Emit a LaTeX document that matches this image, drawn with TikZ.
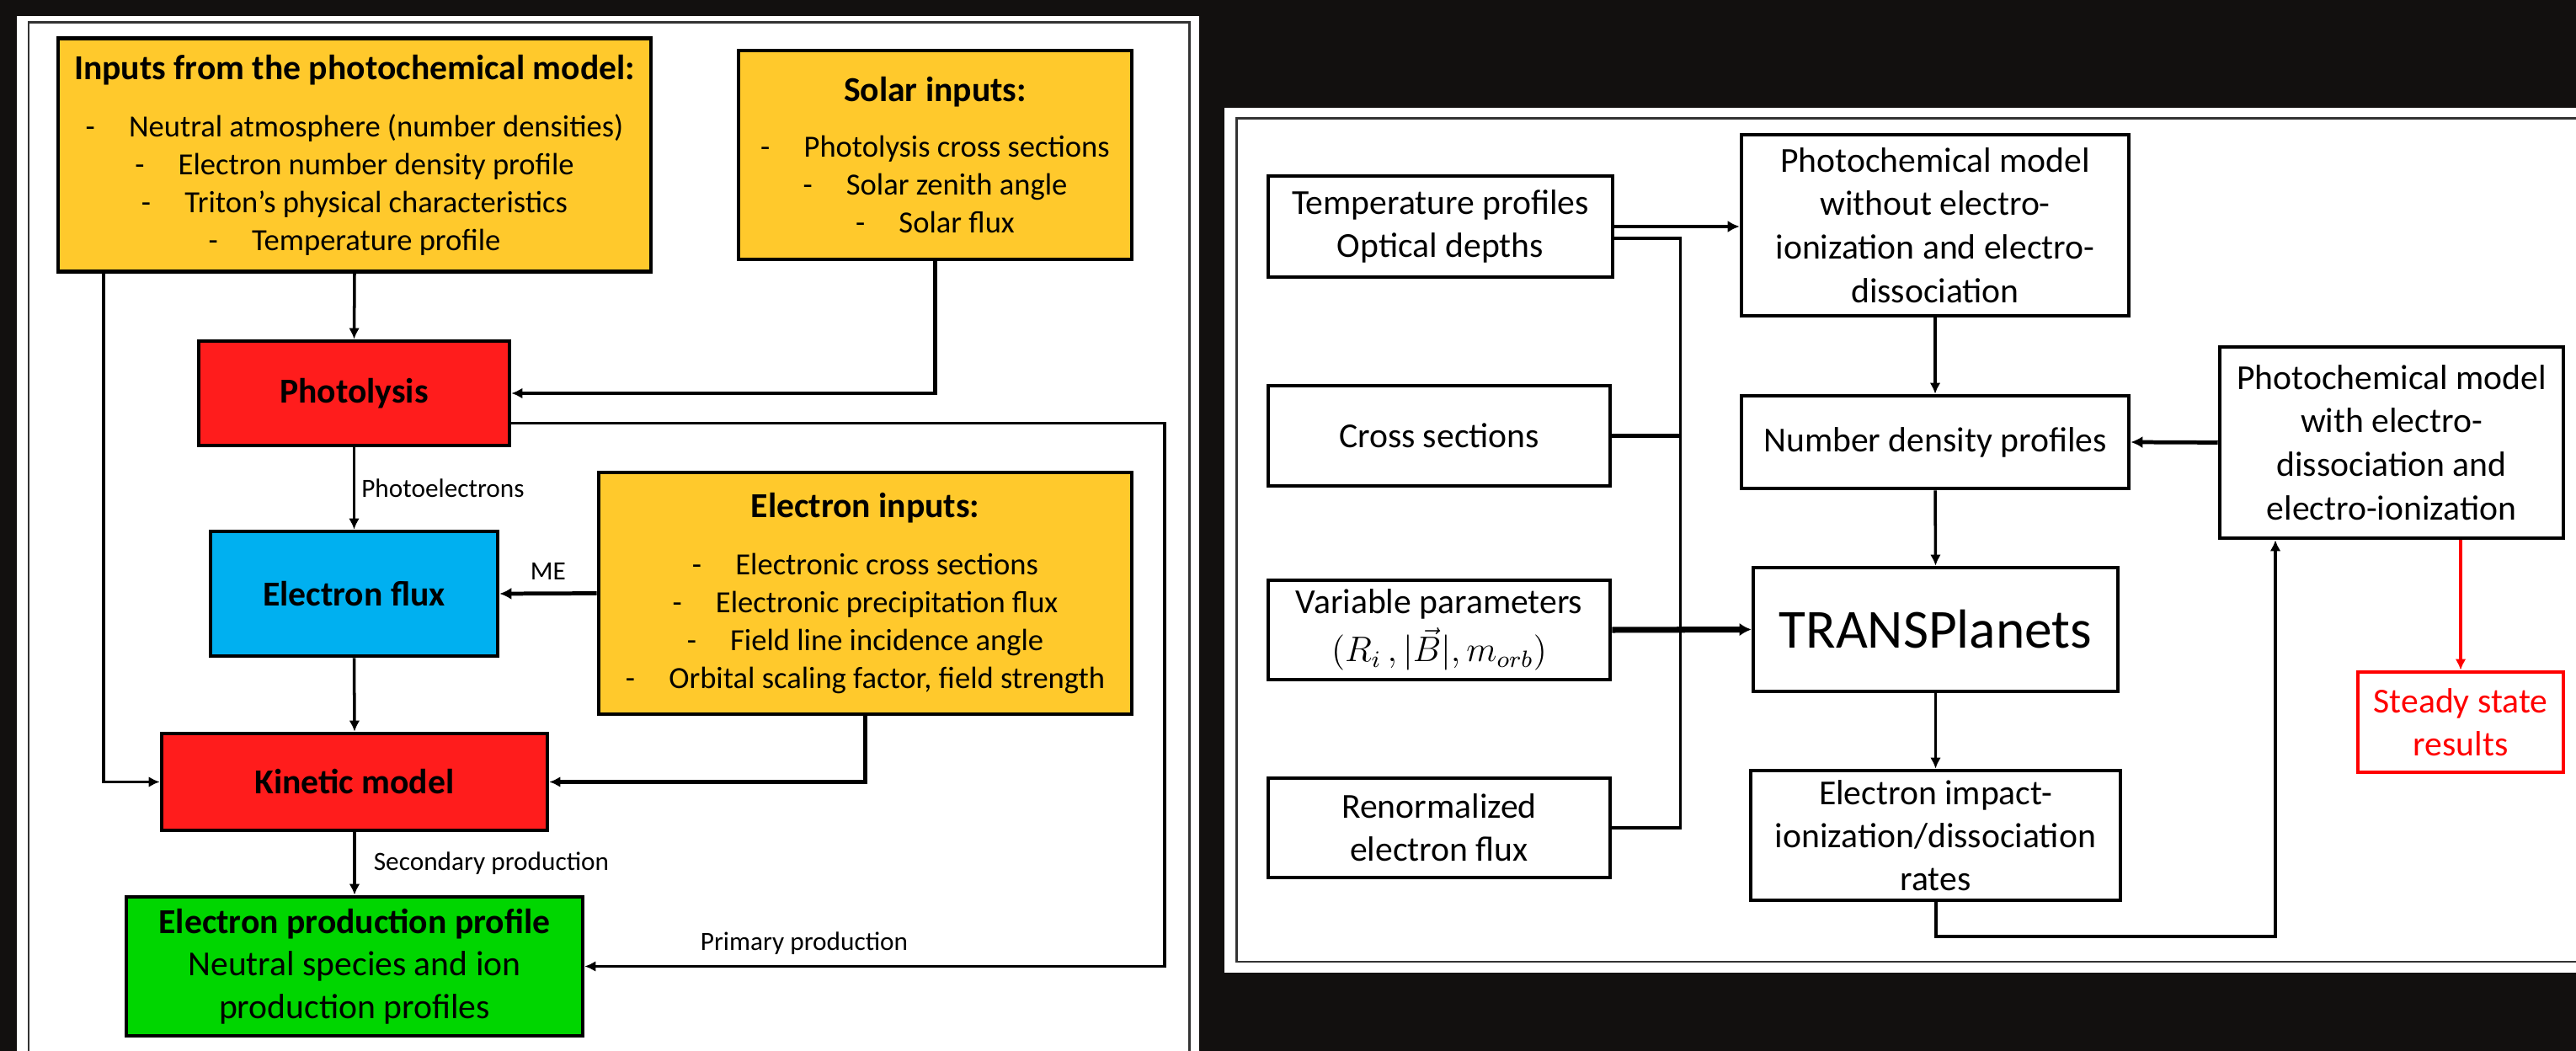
\documentclass[tikz,border=0pt]{standalone}
\usepackage{fontspec}
\setmainfont{Carlito}
\usepackage{amsmath}
\usetikzlibrary{arrows.meta,positioning}

\definecolor{bgdark}{RGB}{18,16,15}
\definecolor{inyellow}{RGB}{255,201,44}
\definecolor{procred}{RGB}{255,28,28}
\definecolor{fluxblue}{RGB}{0,176,240}
\definecolor{prodgreen}{RGB}{0,214,0}
\definecolor{resred}{RGB}{255,0,0}

\newcommand{\fTitle}{\fontsize{11.85}{14.2}\selectfont\bfseries}
\newcommand{\fList}{\fontsize{10.4}{12.8}\selectfont}
\newcommand{\fLabel}{\fontsize{8.9}{10.6}\selectfont}
\newcommand{\fBox}{\fontsize{11.85}{14.45}\selectfont}
\newcommand{\fBig}{\fontsize{18.6}{22}\selectfont}

\tikzset{
  block/.style={draw=black, line width=1.3pt, align=center, inner sep=0pt},
  wbox/.style={block, fill=white, font=\fBox},
  link/.style={line width=1pt, -{Latex[length=3.7pt,width=3.6pt]}},
  thicklink/.style={line width=1.35pt, -{Latex[length=4pt,width=4pt]}},
  heavylink/.style={line width=2pt, -{Latex[length=4pt,width=4.4pt]}},
  lab/.style={font=\fLabel, inner sep=1pt}
}

\begin{document}
\begin{tikzpicture}
  % background and panels
  \fill[bgdark] (0,0) rectangle (30.59,-12.48);
  \useasboundingbox (0,0) rectangle (30.59,-12.48);
  \fill[white] (0.20,-0.19) rectangle (14.24,-12.48);
  \draw[black!80, line width=0.85pt] (0.34,-12.48) |- (14.12,-0.27) -- (14.12,-12.48);
  \fill[white] (14.54,-1.28) rectangle (30.59,-11.55);
  \draw[black!80, line width=0.85pt] (30.59,-1.41) -| (14.68,-11.42) -- (30.59,-11.42);

  % left panel: kinetic model chain
  \node[block, fill=inyellow, minimum width=7.04cm, minimum height=2.77cm, font=\fList] (inputs) at (4.21,-1.84)
    {{\fTitle Inputs from the photochemical model:}\\[6.5pt]
     -\hspace{1.1em}Neutral atmosphere (number densities)\\
     -\hspace{1.1em}Electron number density profile\\
     -\hspace{1.1em}Triton’s physical characteristics\\
     -\hspace{1.1em}Temperature profile};
  \node[block, fill=inyellow, minimum width=4.67cm, minimum height=2.48cm, font=\fList] (solar) at (11.105,-1.84)
    {{\fTitle Solar inputs:}\\[6pt]
     -\hspace{1.1em}Photolysis cross sections\\
     -\hspace{1.1em}Solar zenith angle\\
     -\hspace{1.1em}Solar flux};
  \node[block, fill=procred, minimum width=3.69cm, minimum height=1.24cm, font=\fTitle] (photolysis) at (4.205,-4.67) {Photolysis};
  \node[block, fill=fluxblue, minimum width=3.41cm, minimum height=1.48cm, font=\fTitle] (eflux) at (4.205,-7.05) {Electron flux};
  \node[block, fill=inyellow, minimum width=6.33cm, minimum height=2.87cm, font=\fList] (einputs) at (10.275,-7.045)
    {{\fTitle Electron inputs:}\\[6.5pt]
     -\hspace{1.1em}Electronic cross sections\\
     -\hspace{1.1em}Electronic precipitation flux\\
     -\hspace{1.1em}Field line incidence angle\\
     -\hspace{1.1em}Orbital scaling factor, field strength};
  \node[block, fill=procred, minimum width=4.58cm, minimum height=1.15cm, font=\fTitle] (kinetic) at (4.21,-9.285) {Kinetic model};
  \node[block, fill=prodgreen, minimum width=5.42cm, minimum height=1.65cm, font=\fBox] (eprod) at (4.21,-11.475)
    {{\bfseries Electron production profile}\\Neutral species and ion\\production profiles};

  \coordinate (leftbus) at (1.23,0);
  \coordinate (loopR) at (13.83,-5.025);

  \draw[link] (inputs.south) -- (photolysis.north);
  \draw[link, line width=1.15pt] (solar.south) |- (photolysis.east);
  \draw[link] (photolysis.south) -- node[lab, right=1pt] {Photoelectrons} (eflux.north);
  \draw[thicklink] (einputs.west) -- node[lab, above=3pt] {ME} (eflux.east);
  \draw[link] (eflux.south) -- (kinetic.north);
  \draw[link] (inputs.south -| leftbus) |- (kinetic.west);
  \draw[link, line width=1.15pt] (einputs.south) |- (kinetic.east);
  \draw[link] (kinetic.south) -- node[lab, right=5pt] {Secondary production} (eprod.north);
  \draw[link] (photolysis.east |- loopR) -- (loopR) |- (eprod.east);
  \node[lab] (primary) at (9.55,-11.20) {Primary production};

  % right panel: TRANSPlanets coupling
  \node[wbox, minimum width=4.09cm, minimum height=1.20cm] (temp) at (17.105,-2.69) {Temperature profiles\\Optical depths};
  \node[wbox, minimum width=4.60cm, minimum height=2.15cm, font=\fontsize{11.85}{14.7}\selectfont] (pcwo) at (22.98,-2.675)
    {Photochemical model\\without electro-\\ionization and electro-\\dissociation};
  \node[wbox, minimum width=4.06cm, minimum height=1.19cm] (cross) at (17.09,-5.175) {Cross sections};
  \node[wbox, minimum width=4.60cm, minimum height=1.10cm] (ndp) at (22.98,-5.25) {Number density profiles};
  \node[wbox, minimum width=4.08cm, minimum height=2.27cm, font=\fontsize{11.85}{14.7}\selectfont] (pcw) at (28.40,-5.255)
    {Photochemical model\\with electro-\\dissociation and\\electro-ionization};
  \node[wbox, minimum width=4.06cm, minimum height=1.18cm, font=\fontsize{11.85}{14.3}\selectfont] (var) at (17.09,-7.48)
    {Variable parameters\\[2pt]$(R_i\,, \lvert\vec{B}\rvert, m_{orb})$};
  \node[wbox, minimum width=4.33cm, minimum height=1.47cm, font=\fBig] (trans) at (22.985,-7.475) {TRANSPlanets};
  \node[wbox, minimum width=4.06cm, minimum height=1.18cm] (renorm) at (17.09,-9.83) {Renormalized\\electron flux};
  \node[wbox, minimum width=4.39cm, minimum height=1.54cm] (eimp) at (22.985,-9.92)
    {Electron impact-\\ionization/dissociation\\rates};
  \node[wbox, draw=resred, text=resred, minimum width=2.44cm, minimum height=1.19cm] (steady) at (29.22,-8.575) {Steady state\\results};

  \coordinate (bustop) at (19.955,-2.83);
  \coordinate (busbot) at (19.955,-9.83);
  \coordinate (retR) at (27.02,-11.12);

  \draw[thicklink] (temp.east) -- (temp.east -| pcwo.west);
  \draw[line width=1pt] (temp.east |- bustop) -- (bustop) -- (busbot) -- (renorm.east);
  \draw[line width=1.3pt] (cross.east) -- (cross.east -| bustop);
  \draw[heavylink] (var.east) -- (trans.west);
  \draw[link] (pcwo.south) -- (ndp.north);
  \draw[thicklink] (pcw.west) -- (ndp.east);
  \draw[link] (ndp.south) -- (trans.north);
  \draw[link] (trans.south) -- (eimp.north);
  \draw[link, line width=1.15pt] (eimp.south) |- (retR) -- (pcw.south -| retR);
  \draw[link, draw=resred, fill=resred] (pcw.south -| steady.north) -- (steady.north);
\end{tikzpicture}
\end{document}
